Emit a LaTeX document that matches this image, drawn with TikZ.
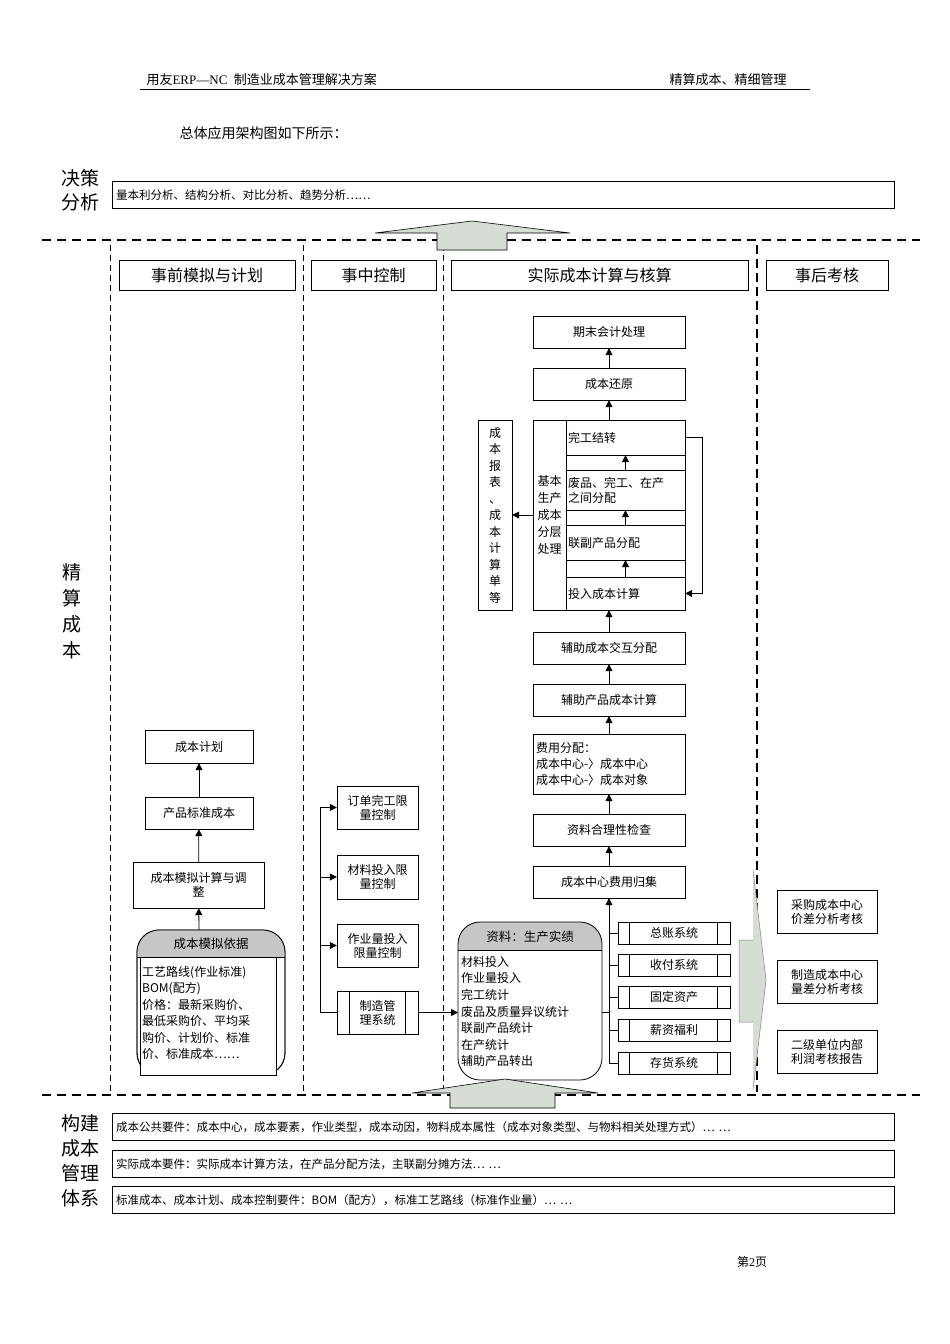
\documentclass[tikz,border=0pt]{standalone}
\usepackage{fontspec}
\setmainfont{Liberation Serif}
\newfontfamily\cjk{Noto Sans CJK SC}
\usetikzlibrary{arrows.meta}
\begin{document}
\begin{tikzpicture}[x=1pt,y=-1pt,font=\cjk\fontsize{12}{14}\selectfont,
  bx/.style={draw,fill=white,inner sep=1pt,align=center},
  hd/.style={draw,fill=white,font=\cjk\fontsize{16}{18}\selectfont},
  wide/.style={draw,fill=white,anchor=west,text width=774pt,minimum height=27pt,align=left,inner sep=4pt,font=\cjk\fontsize{11.5}{13}\selectfont},
  arr/.style={-{Triangle[length=7pt,width=7pt]},line width=0.8pt},
  ln/.style={line width=0.8pt},
  dsh/.style={dash pattern=on 9pt off 6pt,line width=1.2pt},
  vdsh/.style={dash pattern=on 6pt off 4pt,line width=0.7pt},
  side/.style={font=\cjk\fontsize{19}{24}\selectfont,align=center},
  greenf/.style={fill=green!10!gray!30,draw=black,line width=0.6pt}]
\useasboundingbox (0,0) rectangle (950,1344);
% header
\node[anchor=west,font=\fontsize{13}{15}\selectfont] (h1) at (143,80) {{\cjk 用友}ERP—NC\ \ {\cjk 制造业成本管理解决方案}};
\node[anchor=west,font=\cjk\fontsize{13}{15}\selectfont] (h2) at (666,80) {精算成本、精细管理};
\draw[line width=0.6pt] (140,89) -- (810,89);
\node[anchor=west,font=\cjk\fontsize{14}{16}\selectfont] (intro) at (176,133) {总体应用架构图如下所示：};
% side labels
\node[side] (s1) at (80,190) {决策\\分析};
\node[side,font=\cjk\fontsize{19}{26}\selectfont] (s2) at (72,611) {精\\算\\成\\本};
\node[side,font=\cjk\fontsize{19}{25}\selectfont] (s3) at (80,1161) {构建\\成本\\管理\\体系};
% top box
\node[wide] (top) at (112,195) {量本利分析、结构分析、对比分析、趋势分析……};
% dashed lines
\draw[dsh] (42,240) -- (920,240);
\draw[dsh] (42,1095) -- (920,1095);
\draw[vdsh] (110,245) -- (110,1092);
\draw[vdsh] (303,245) -- (303,1092);
\draw[vdsh] (443,245) -- (443,1092);
\draw[dash pattern=on 9pt off 5pt,line width=1.4pt] (757,245) -- (757,1092);
% up arrow top
\path[greenf] (437,250) -- (437,233) -- (375,233) -- (472,221) -- (570,233) -- (507,233) -- (507,250) -- cycle;
% column headers
\node[hd,minimum width=176pt,minimum height=30pt] (c1) at (207,275) {事前模拟与计划};
\node[hd,minimum width=125pt,minimum height=30pt] (c2) at (373.5,275) {事中控制};
\node[hd,minimum width=297pt,minimum height=30pt] (c3) at (599.5,275) {实际成本计算与核算};
\node[hd,minimum width=122pt,minimum height=30pt] (c4) at (827,275) {事后考核};
% main column
\node[bx,minimum width=152pt,minimum height=32pt] (q1) at (609,332) {期末会计处理};
\node[bx,minimum width=152pt,minimum height=32pt] (q2) at (609,384) {成本还原};
\node[bx,minimum width=152pt,minimum height=190pt] (blk) at (609,515) {};
\node[bx,minimum width=33pt,minimum height=190pt,font=\cjk\fontsize{12}{17}\selectfont] (jb) at (549.5,515) {基本\\生产\\成本\\分层\\处理};
\node[bx,minimum width=119pt,minimum height=35pt,text width=115pt,align=left] (w1) at (625.5,437.5) {完工结转};
\node[bx,minimum width=119pt,minimum height=40pt,text width=115pt,align=left,font=\cjk\fontsize{12}{15}\selectfont] (w2) at (625.5,490) {废品、完工、在产\\之间分配};
\node[bx,minimum width=119pt,minimum height=35pt,text width=115pt,align=left] (w3) at (625.5,542.5) {联副产品分配};
\node[bx,minimum width=119pt,minimum height=33pt,text width=115pt,align=left] (w4) at (625.5,593.5) {投入成本计算};
\node[bx,minimum width=34pt,minimum height=190pt,font=\cjk\fontsize{12}{16.5}\selectfont] (rep) at (495,515) {成\\本\\报\\表\\、\\成\\本\\计\\算\\单\\等};
\node[bx,minimum width=152pt,minimum height=32pt] (q3) at (609,648) {辅助成本交互分配};
\node[bx,minimum width=152pt,minimum height=32pt] (q4) at (609,700) {辅助产品成本计算};
\node[bx,minimum width=152pt,minimum height=60pt,text width=146pt,align=left,font=\cjk\fontsize{12}{16}\selectfont] (q5) at (609,764) {费用分配：\\成本中心-〉成本中心\\成本中心-〉成本对象};
\node[bx,minimum width=152pt,minimum height=32pt] (q6) at (609,830) {资料合理性检查};
\node[bx,minimum width=152pt,minimum height=32pt] (q7) at (609,882) {成本中心费用归集};
\draw[arr] (q2) -- (q1);
\draw[arr] (blk.north) -- (q2);
\draw[arr] (w2) -- (w1);
\draw[arr] (w3) -- (w2);
\draw[arr] (w4) -- (w3);
\draw[arr] (q3) -- (blk.south);
\draw[arr] (q4) -- (q3);
\draw[arr] (q5) -- (q4);
\draw[arr] (q6) -- (q5);
\draw[arr] (q7) -- (q6);
\draw[arr] (w1.east) -- ++(17,0) |- (w4.east);
\draw[arr] (jb.west) -- (rep.east);
% systems
\foreach \n/\t/\y in {g1/总账系统/933,g2/收付系统/965,g3/固定资产/997,g4/薪资福利/1030,g5/存货系统/1063}{
  \node[bx,minimum width=112pt,minimum height=22pt] (\n) at (674,\y) {\t};
  \draw[ln] ([xshift=12pt]\n.north west) -- ([xshift=12pt]\n.south west);
  \draw[ln] ([xshift=-13pt]\n.north east) -- ([xshift=-13pt]\n.south east);
}
\coordinate (tb) at (609,1063);
\draw[arr] (tb) -- (q7.south);
\foreach \n in {g1,g2,g3,g4,g5}{\draw[ln] (\n.west) -- (\n.west -| tb);}
% right arrow
\path[greenf,draw=none] (739,940) -- (753,940) -- (753,870) -- (766,980) -- (753,1090) -- (753,1022) -- (739,1022) -- cycle;
\draw[line width=0.5pt,gray] (739,940) -- (753,940) (739,1022) -- (753,1022) (739,940) -- (739,1022) (753,870) -- (766,980) -- (753,1090);
% assessment boxes
\node[bx,minimum width=100pt,minimum height=43pt] (k1) at (827,911.5) {采购成本中心\\价差分析考核};
\node[bx,minimum width=100pt,minimum height=43pt] (k2) at (827,981.5) {制造成本中心\\量差分析考核};
\node[bx,minimum width=100pt,minimum height=43pt] (k3) at (827,1051.5) {二级单位内部\\利润考核报告};
% left column
\node[bx,minimum width=108pt,minimum height=33pt] (p1) at (199,746.5) {成本计划};
\node[bx,minimum width=108pt,minimum height=32pt] (p2) at (199,813) {产品标准成本};
\node[bx,minimum width=131pt,minimum height=46pt] (p3) at (198.5,885) {成本模拟计算与调\\整};
% rounded box 1
\path[draw,fill=white,rounded corners=22pt,line width=0.8pt] (137,930) rectangle (285,1075);
\begin{scope}
\clip[rounded corners=22pt] (137,930) rectangle (285,1075);
\fill[gray!45] (137,930) rectangle (285,957);
\end{scope}
\draw[rounded corners=22pt,line width=0.8pt] (137,930) rectangle (285,1075);
\draw[ln,fill=white] (140,957) rectangle (276,1075);
\draw[ln] (137,957) -- (285,957);
\node[font=\cjk\fontsize{12.5}{14}\selectfont] (m0) at (211,944) {成本模拟依据};
\node[anchor=north west,align=left,inner sep=0pt,font=\cjk\fontsize{12}{16.5}\selectfont] (m1) at (142,966) {工艺路线(作业标准)\\BOM(配方)\\价格：最新采购价、\\最低采购价、平均采\\购价、计划价、标准\\价、标准成本……};
\coordinate (m) at (199,930);
\draw[arr] (m) -- (p3);
\draw[arr] (p3) -- (p2);
\draw[arr] (p2) -- (p1);
% middle column
\node[bx,minimum width=81pt,minimum height=43pt] (r1) at (377.5,807.5) {订单完工限\\量控制};
\node[bx,minimum width=81pt,minimum height=44pt] (r2) at (377.5,877) {材料投入限\\量控制};
\node[bx,minimum width=81pt,minimum height=43pt] (r3) at (377.5,945.5) {作业量投入\\限量控制};
\node[bx,minimum width=81pt,minimum height=43pt] (r4) at (377.5,1012.5) {制造管\\理系统};
\draw[ln] ([xshift=13pt]r4.north west) -- ([xshift=13pt]r4.south west);
\draw[ln] ([xshift=-13pt]r4.north east) -- ([xshift=-13pt]r4.south east);
\coordinate (ta) at (320,807.5);
\draw[ln] (r4.west) -| (ta);
\draw[arr] (ta) -- (r1.west);
\draw[arr] (r2.west -| ta) -- (r2.west);
\draw[arr] (r3.west -| ta) -- (r3.west);
% rounded box 2
\begin{scope}
\clip[rounded corners=22pt] (458,922) rectangle (602,1080);
\fill[white] (458,922) rectangle (602,1080);
\fill[gray!45] (458,922) rectangle (602,950);
\end{scope}
\draw[rounded corners=22pt,line width=0.8pt] (458,922) rectangle (602,1080);
\draw[ln] (458,950) -- (602,950);
\node[font=\cjk\fontsize{12.5}{14}\selectfont] (d0) at (530,937) {资料：生产实绩};
\node[anchor=north west,align=left,inner sep=0pt,font=\cjk\fontsize{12}{16.6}\selectfont] (d1) at (461,956) {材料投入\\作业量投入\\完工统计\\废品及质量异议统计\\联副产品统计\\在产统计\\辅助产品转出};
\coordinate (dl) at (458,1012.5);
\coordinate (dr) at (602,1012.5);
\draw[arr] (r4.east) -- (dl);
\draw[ln] (dr) -- (dr -| tb);
% bottom up arrow
\path[greenf] (450,1108) -- (450,1093) -- (412,1093) -- (505,1079) -- (598,1093) -- (555,1093) -- (555,1108) -- cycle;
% bottom boxes
\node[wide] (b1) at (112,1127) {成本公共要件：成本中心，成本要素，作业类型，成本动因，物料成本属性（成本对象类型、与物料相关处理方式）… …};
\node[wide] (b2) at (112,1164) {实际成本要件：实际成本计算方法，在产品分配方法，主联副分摊方法… …};
\node[wide] (b3) at (112,1200) {标准成本、成本计划、成本控制要件：BOM（配方），标准工艺路线（标准作业量）… …};
\node[font=\fontsize{12}{14}\selectfont] (pg) at (752,1262) {{\cjk 第}2{\cjk 页}};
\end{tikzpicture}
\end{document}
